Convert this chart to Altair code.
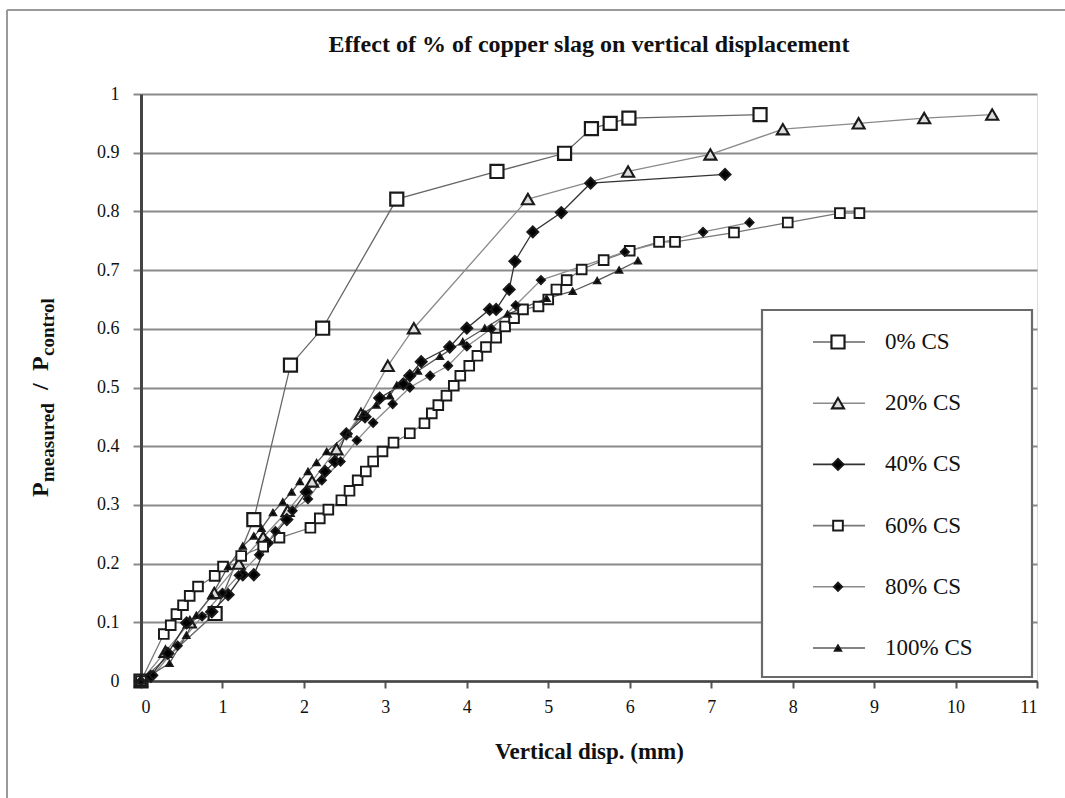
import altair as alt
import pandas as pd

SERIES = ["0% CS", "20% CS", "40% CS", "60% CS", "80% CS", "100% CS"]

cs0_x = [0, 0.91, 1.385, 1.835, 2.23, 3.14, 4.37, 5.2, 5.53, 5.76, 5.99, 7.6]
cs0_y = [0, 0.115, 0.275, 0.538, 0.601, 0.821, 0.868, 0.899, 0.941, 0.95, 0.959, 0.965]

cs20_x = [0, 0.3, 0.6, 0.9, 1.2, 1.5, 1.8, 2.1, 2.4, 2.7, 3.03, 3.35, 4.75, 5.98, 6.99, 7.88, 8.81, 9.615, 10.45]
cs20_y = [0, 0.05, 0.1, 0.15, 0.2, 0.245, 0.29, 0.34, 0.395, 0.455, 0.537, 0.601, 0.821, 0.868, 0.897, 0.94, 0.95, 0.959, 0.965]

cs40_x = [0, 0.12, 0.33, 0.56, 0.87, 1.07, 1.25, 1.385, 1.55, 1.79, 2.03, 2.26, 2.38, 2.52, 2.75, 2.93, 3.22, 3.3, 3.44, 3.79, 4.0, 4.28, 4.36, 4.52, 4.59, 4.81, 5.16, 5.52, 7.17]
cs40_y = [0, 0.008, 0.047, 0.099, 0.118, 0.147, 0.181, 0.181, 0.235, 0.275, 0.322, 0.357, 0.374, 0.421, 0.45, 0.482, 0.506, 0.52, 0.544, 0.569, 0.601, 0.633, 0.633, 0.667, 0.715, 0.765, 0.798, 0.848, 0.863]

cs60_x = [0, 0.28, 0.365, 0.435, 0.516, 0.598, 0.70, 0.905, 1.007, 1.23, 1.5, 1.70, 2.08, 2.195, 2.30, 2.46, 2.56, 2.66, 2.76, 2.85, 2.965, 3.10, 3.30, 3.48, 3.57, 3.65, 3.75, 3.84, 3.92, 4.03, 4.13, 4.235, 4.36, 4.47, 4.58, 4.69, 4.88, 5.0, 5.10, 5.226, 5.41, 5.68, 6.0, 6.36, 6.556, 7.28, 7.94, 8.58, 8.82]
cs60_y = [0, 0.080, 0.095, 0.114, 0.129, 0.145, 0.161, 0.179, 0.195, 0.213, 0.229, 0.244, 0.261, 0.277, 0.292, 0.308, 0.324, 0.342, 0.357, 0.374, 0.391, 0.406, 0.422, 0.439, 0.456, 0.470, 0.486, 0.503, 0.52, 0.537, 0.554, 0.569, 0.585, 0.604, 0.618, 0.633, 0.638, 0.650, 0.667, 0.683, 0.701, 0.717, 0.733, 0.748, 0.748, 0.764, 0.781, 0.797, 0.797]

cs80_x = [0, 0.15, 0.45, 0.75, 1.0, 1.2, 1.45, 1.65, 1.86, 2.05, 2.22, 2.45, 2.65, 2.85, 3.09, 3.3, 3.55, 3.77, 4.0, 4.3, 4.6, 4.91, 5.94, 6.90, 7.47]
cs80_y = [0, 0.01, 0.06, 0.11, 0.15, 0.18, 0.215, 0.255, 0.29, 0.31, 0.342, 0.374, 0.41, 0.44, 0.472, 0.50, 0.52, 0.537, 0.57, 0.60, 0.64, 0.683, 0.731, 0.765, 0.781]

cs100_x = [0, 0.35, 0.557, 0.68, 0.865, 1.07, 1.25, 1.385, 1.48, 1.62, 1.74, 1.85, 1.95, 2.05, 2.155, 2.28, 2.54, 2.73, 2.89, 3.055, 3.14, 3.4, 3.67, 3.95, 4.22, 4.5, 4.98, 5.30, 5.60, 5.87, 6.10]
cs100_y = [0, 0.03, 0.078, 0.112, 0.145, 0.195, 0.23, 0.247, 0.26, 0.287, 0.305, 0.322, 0.34, 0.357, 0.372, 0.391, 0.421, 0.456, 0.47, 0.486, 0.504, 0.528, 0.553, 0.578, 0.601, 0.625, 0.652, 0.664, 0.682, 0.70, 0.716]

X_TICKS = list(range(0, 12))
Y_TICKS = [round(0.1 * i, 1) for i in range(0, 11)]

TITLE = "Effect of % of copper slag on vertical displacement"
X_TITLE = "Vertical disp. (mm)"

XS = [cs0_x, cs20_x, cs40_x, cs60_x, cs80_x, cs100_x]
YS = [cs0_y, cs20_y, cs40_y, cs60_y, cs80_y, cs100_y]

rows = []
for name, xs, ys in zip(SERIES, XS, YS):
    for i, (xv, yv) in enumerate(zip(xs, ys)):
        rows.append({"series": name, "x": xv, "y": yv, "order": i})
df = pd.DataFrame(rows)
legend_df = pd.DataFrame({"series": SERIES})

SERIF = "Liberation Serif"

xscale = alt.Scale(domain=[0, 11], nice=False, zero=False)
yscale = alt.Scale(domain=[0, 1], nice=False)

line_colors = alt.Scale(domain=SERIES, range=["#666666", "#8a8a8a", "#333333", "#777777", "#8a8a8a", "#5a5a5a"])
shape_scale = alt.Scale(domain=SERIES, range=["square", "triangle-up", "diamond", "square", "diamond", "triangle-up"])
fill_scale = alt.Scale(domain=SERIES, range=["white", "#dddddd", "black", "white", "black", "black"])
size_scale = alt.Scale(domain=SERIES, range=[170, 42, 36, 46, 30, 50])
sw_scale = alt.Scale(domain=SERIES, range=[2.2, 1.8, 1, 1.8, 1, 1])

x_axis = alt.Axis(values=X_TICKS, format="d", title=X_TITLE, grid=False, labelFont=SERIF, labelFontSize=18,
                  labelColor="#111", titleFont=SERIF, titleFontSize=23, titleFontWeight="bold",
                  titleColor="#111", titlePadding=24, tickSize=7, tickColor="#555", tickWidth=2,
                  domainColor="#444", domainWidth=2.5, labelPadding=10)
y_axis = alt.Axis(values=Y_TICKS, title=None, format=".1~f", grid=True, gridColor="#8a8a8a", gridWidth=2,
                  labelFont=SERIF, labelFontSize=18, labelColor="#111", tickSize=8, tickColor="#8a8a8a",
                  tickWidth=2, domainColor="#444", domainWidth=3, labelPadding=14)

base = alt.Chart(df)
lines = base.mark_line(strokeWidth=1.3).encode(
    x=alt.X("x:Q", scale=xscale, axis=x_axis),
    y=alt.Y("y:Q", scale=yscale, axis=y_axis),
    color=alt.Color("series:N", scale=line_colors, legend=None),
    detail="series:N",
    order="order:Q",
)
points = base.mark_point(opacity=1, stroke="#1a1a1a").encode(
    x=alt.X("x:Q", scale=xscale),
    y=alt.Y("y:Q", scale=yscale, axis=None),
    shape=alt.Shape("series:N", scale=shape_scale, legend=None),
    fill=alt.Fill("series:N", scale=fill_scale, legend=None),
    size=alt.Size("series:N", scale=size_scale, legend=None),
    strokeWidth=alt.StrokeWidth("series:N", scale=sw_scale, legend=None),
)

one = pd.DataFrame({"a": [0]})

# chart title
title_txt = alt.Chart(one).mark_text(text=TITLE, align="center", baseline="alphabetic", font=SERIF,
                                     fontSize=24, fontWeight="bold", color="#111").encode(
    x=alt.value(448), y=alt.value(-42))

# legend box and entries
leg_box = alt.Chart(one).mark_rect(fill="white", stroke="#6a6a6a", strokeWidth=2.2).encode(
    x=alt.value(621), x2=alt.value(891), y=alt.value(216), y2=alt.value(583)
)
leg_y = alt.Y("series:N", scale=alt.Scale(type="point", domain=SERIES, range=[248, 554], padding=0), axis=None)
lg = alt.Chart(legend_df)
leg_lines = lg.mark_rule(strokeWidth=1.6).encode(
    x=alt.value(672), x2=alt.value(724), y=leg_y,
    color=alt.Color("series:N", scale=line_colors, legend=None),
)
leg_pts = lg.mark_point(opacity=1, stroke="#1a1a1a").encode(
    x=alt.value(697), y=leg_y,
    shape=alt.Shape("series:N", scale=shape_scale, legend=None),
    fill=alt.Fill("series:N", scale=fill_scale, legend=None),
    size=alt.Size("series:N", scale=size_scale, legend=None),
    strokeWidth=alt.StrokeWidth("series:N", scale=sw_scale, legend=None),
)
leg_txt = lg.mark_text(align="left", baseline="middle", font=SERIF, fontSize=23, color="#111").encode(
    x=alt.value(744), y=leg_y, text="series:N"
)

# rotated y-axis title with subscripts
def ytxt(t, yv, xv, size):
    return alt.Chart(one).mark_text(text=t, angle=270, align="left", baseline="alphabetic", font=SERIF,
                                    fontSize=size, fontWeight="bold", color="#111").encode(
        x=alt.value(xv), y=alt.value(yv))
ytitle = (ytxt("P", 403, -93, 24) + ytxt("measured", 388, -87, 19) + ytxt("/", 296, -93, 24)
          + ytxt("P", 277, -93, 24) + ytxt("control", 262, -87, 19))

# outer figure frame (scan border)
frame_top = alt.Chart(one).mark_rule(color="#9a9a9a", strokeWidth=2).encode(
    x=alt.value(-134), x2=alt.value(924), y=alt.value(-84))
frame_left = alt.Chart(one).mark_rule(color="#9a9a9a", strokeWidth=2).encode(
    x=alt.value(-134), y=alt.value(-84), y2=alt.value(704))

chart = alt.layer(
    lines, points, leg_box, leg_lines, leg_pts, leg_txt, ytitle, title_txt, frame_top, frame_left
).resolve_scale(y="independent").properties(
    width=896, height=587,
    padding={"left": 141, "top": 94, "right": 28, "bottom": 117},
    autosize=alt.AutoSizeParams(type="none"),
).configure_view(stroke="#8a8a8a", strokeWidth=2).configure(background="white")

chart.save("out.html", embed_options={"renderer": "svg", "actions": False})
